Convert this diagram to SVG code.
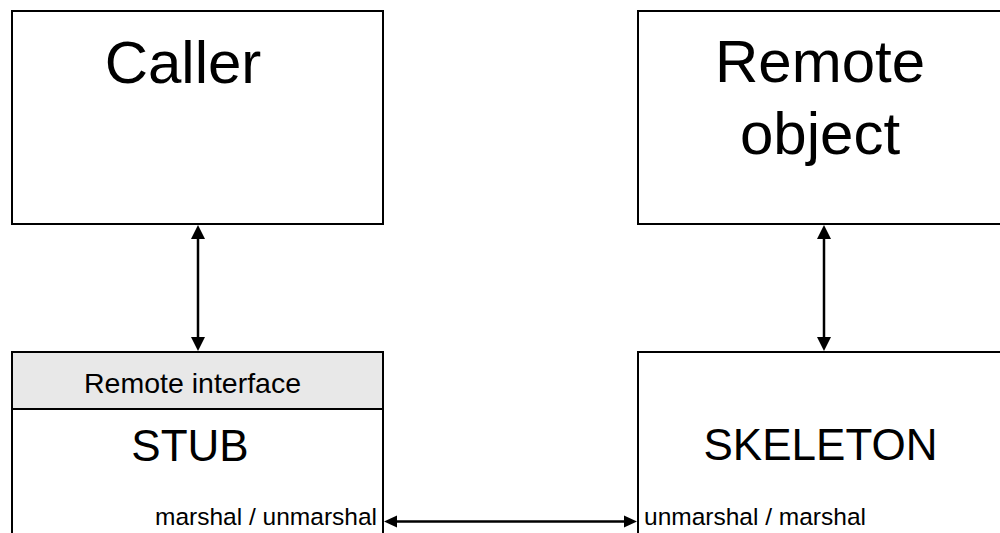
<svg xmlns="http://www.w3.org/2000/svg" width="1000" height="533" viewBox="0 0 1000 533">
<style>
.box{fill:#fff;stroke:#000;stroke-width:2}
.hdr{fill:#e8e8e8;stroke:#000;stroke-width:2}
.t{font-family:"Liberation Sans",Arial,sans-serif;fill:#000}
.conn{stroke:#000;stroke-width:2.5;fill:none}
.head{fill:#000}
</style>
<rect width="1000" height="533" fill="#fff"/>
<g id="caller">
<rect class="box" x="12" y="11" width="371" height="213"/>
<text class="t" x="183" y="83" font-size="60" text-anchor="middle">Caller</text>
</g>
<g id="remote-object">
<rect class="box" x="638" y="11" width="380" height="213"/>
<text class="t" x="820" y="82" font-size="60" text-anchor="middle">Remote</text>
<text class="t" x="820" y="154" font-size="60" text-anchor="middle">object</text>
</g>
<g id="stub">
<rect class="box" x="12" y="352" width="371" height="200"/>
<rect class="hdr" x="12" y="352" width="371" height="57"/>
<text class="t" x="192.5" y="393" font-size="28.5" text-anchor="middle">Remote interface</text>
<text class="t" x="190" y="461" font-size="44" text-anchor="middle">STUB</text>
<text class="t" x="377" y="525" font-size="24.5" text-anchor="end">marshal / unmarshal</text>
</g>
<g id="skeleton">
<rect class="box" x="638" y="352" width="380" height="200"/>
<text class="t" x="820.5" y="460" font-size="44" text-anchor="middle">SKELETON</text>
<text class="t" x="644" y="525" font-size="24.5">unmarshal / marshal</text>
</g>
<g id="connectors">
<line class="conn" x1="198" y1="236" x2="198" y2="340"/>
<polygon class="head" points="198,225 191,239 205,239"/>
<polygon class="head" points="198,351 191,337 205,337"/>
<line class="conn" x1="824" y1="236" x2="824" y2="340"/>
<polygon class="head" points="824,225 817,239 831,239"/>
<polygon class="head" points="824,351 817,337 831,337"/>
<line class="conn" x1="395" y1="521.5" x2="626" y2="521.5"/>
<polygon class="head" points="384,521.5 397,515.5 397,527.5"/>
<polygon class="head" points="637,521.5 624,515.5 624,527.5"/>
</g>
</svg>
